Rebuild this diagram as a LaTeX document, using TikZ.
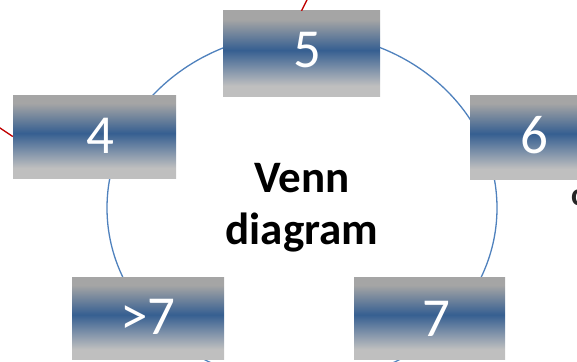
\documentclass[tikz,border=0pt]{standalone}
\usepackage{fontspec}
\setmainfont{Carlito}
\usepackage{xcolor}
\usepackage{tikz}
\usetikzlibrary{shapes.geometric}

\definecolor{tagtop}{RGB}{165,165,165}
\definecolor{tagbottom}{RGB}{191,191,191}
\definecolor{tagblue}{RGB}{54,95,145}
\definecolor{ringblue}{RGB}{79,129,189}
\definecolor{linkred}{RGB}{192,0,0}
\pgfdeclareverticalshading{tagfade}{100bp}{color(0bp)=(tagbottom); color(31bp)=(tagbottom); color(52bp)=(tagblue); color(70bp)=(tagtop); color(100bp)=(tagtop)}

\begin{document}
\begin{tikzpicture}[x=1pt,y=-1pt,
    ring/.style={ellipse,draw=ringblue,line width=1.3pt,minimum width=390pt,minimum height=350pt,inner sep=0pt,align=center,font=\fontsize{45}{52}\selectfont\bfseries},
    tag/.style={rectangle,shading=tagfade,minimum width=155pt,minimum height=84pt,inner sep=0pt},
    num/.style={text=white,inner sep=0pt,font=\fontsize{55}{60}\selectfont},
    link/.style={draw=linkred,line width=1.3pt}]
    \useasboundingbox (0,0) rectangle (577,361);
    \clip (0,0) rectangle (577,361);

    \node[ring] (venn) at (302,208) {Venn\\diagram};

    \node[tag] (b5) at (301.5,53.5) [minimum width=157pt,minimum height=85pt] {};
    \node[tag] (b4) at (94.5,136.5) [minimum width=163pt,minimum height=83pt] {};
    \node[tag] (b6) at (547.5,137) {};
    \node[tag] (bmore) at (148,318) [minimum width=152pt,minimum height=82pt] {};
    \node[tag] (b7) at (429.5,318) [minimum width=151pt,minimum height=82pt] {};

    \node[num] (t5) at (307.5,50.5) {5};
    \node[num] (t4) at (100.5,135.5) {4};
    \node[num] (t6) at (534.5,135.5) {6};
    \node[num] (tmore) at (148,317) {>7};
    \node[num] (t7) at (436,318.5) {7};

    \coordinate (up) at (312,-10);
    \coordinate (away) at (-15,118);
    \path[link] (b5.north) -- (up);
    \path[link] (b4.west) -- (away);

    \node[anchor=base west,inner sep=0pt,text=black!85,font=\fontsize{32}{32}\selectfont\bfseries] (edge) at (571,205) {c};
\end{tikzpicture}
\end{document}
